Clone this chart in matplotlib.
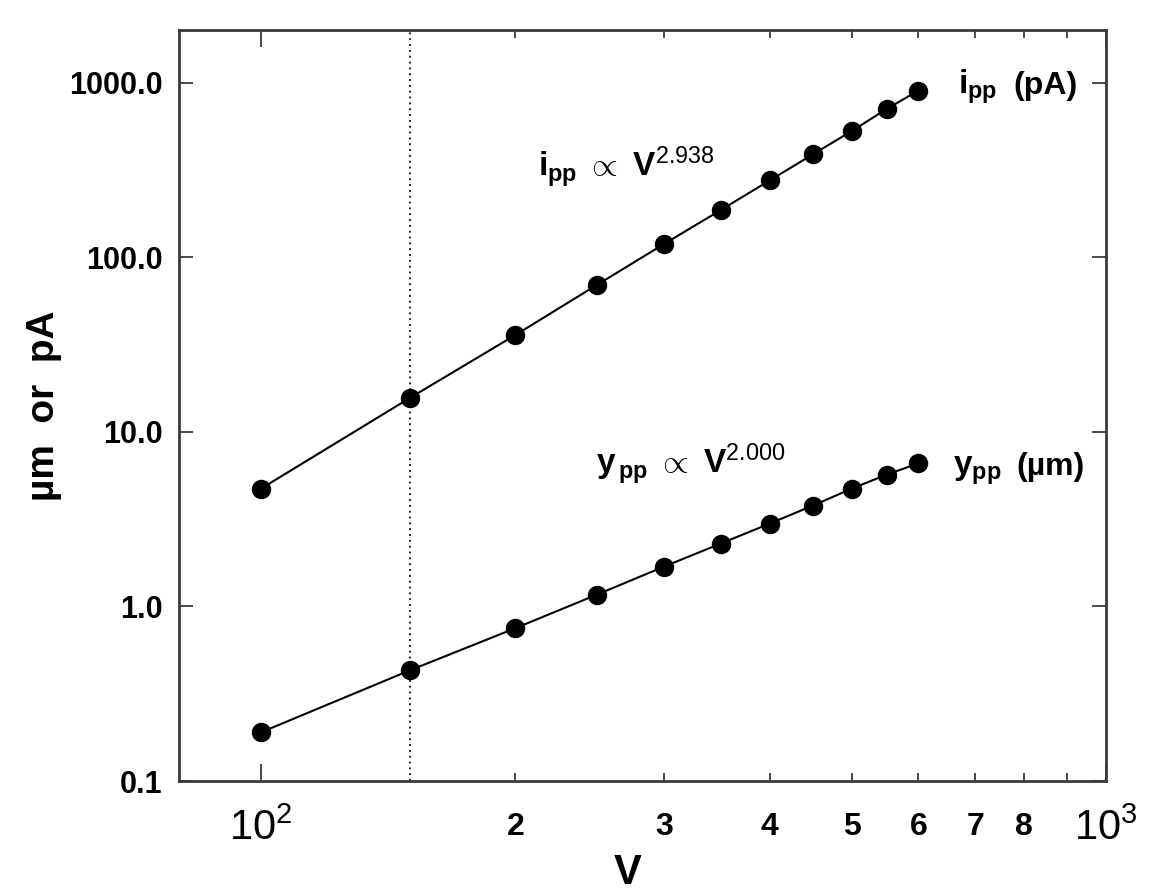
"""
Peak-to-peak current and displacement versus applied voltage (log-log).
"""

import matplotlib
matplotlib.use("Agg")
import matplotlib.pyplot as plt
from matplotlib.ticker import FixedLocator, FixedFormatter, NullFormatter

plt.rcParams["font.family"] = ["Liberation Sans", "DejaVu Sans"]
plt.rcParams["mathtext.fontset"] = "custom"
plt.rcParams["mathtext.rm"] = "Liberation Sans"
plt.rcParams["mathtext.bf"] = "Liberation Sans:bold"
plt.rcParams["mathtext.it"] = "Liberation Sans:italic"

# data
voltage = [100, 150, 200, 250, 300, 350, 400, 450, 500, 550, 600]
i_pp = [4.72, 15.6, 35.8, 69.5, 119, 186, 275, 388, 527, 705, 900]
y_pp = [0.19, 0.43, 0.75, 1.17, 1.69, 2.29, 2.98, 3.78, 4.72, 5.68, 6.6]
marker_voltage = 150

y_ticks = [0.1, 1.0, 10.0, 100.0, 1000.0]
y_tick_labels = ["0.1", "1.0", "10.0", "100.0", "1000.0"]
x_major = [100, 1000]
x_major_labels = [r"$\mathregular{10^{2}}$", r"$\mathregular{10^{3}}$"]
x_minor = [200, 300, 400, 500, 600, 700, 800, 900]
x_minor_labels = ["2", "3", "4", "5", "6", "7", "8", ""]

fig = plt.figure(figsize=(11.57, 8.92), dpi=100)
ax = fig.add_axes([0.1547, 0.1244, 0.8012, 0.8420])
ax.set_xscale("log")
ax.set_yscale("log")
ax.set_xlim(80, 1000)
ax.set_ylim(0.1, 2000)

ax.axvline(marker_voltage, color="#222222", linestyle=(0, (1, 2.0)), lw=1.4, zorder=1)

for series in (i_pp, y_pp):
    ax.plot(voltage, series, color="black", lw=1.5, marker="o", ms=13,
            markerfacecolor="black", markeredgecolor="black", zorder=3)

# axes and ticks
for spine in ax.spines.values():
    spine.set_linewidth(2.0)
    spine.set_color("#3a3a3a")

ax.xaxis.set_major_locator(FixedLocator(x_major))
ax.xaxis.set_major_formatter(FixedFormatter(x_major_labels))
ax.xaxis.set_minor_locator(FixedLocator(x_minor))
ax.xaxis.set_minor_formatter(FixedFormatter(x_minor_labels))
ax.yaxis.set_major_locator(FixedLocator(y_ticks))
ax.yaxis.set_major_formatter(FixedFormatter(y_tick_labels))
ax.yaxis.set_minor_locator(FixedLocator([]))
ax.yaxis.set_minor_formatter(NullFormatter())

ax.tick_params(axis="both", which="both", direction="in", top=True, right=True,
               color="#3a3a3a", width=1.3)
ax.tick_params(axis="x", which="major", length=12, pad=20, labelsize=30)
ax.tick_params(axis="x", which="minor", length=6, pad=22, labelsize=23)
ax.tick_params(axis="y", which="major", length=10, pad=12, labelsize=22)
for lab in ax.xaxis.get_minorticklabels() + ax.yaxis.get_majorticklabels():
    lab.set_fontweight("bold")

ax.set_xlabel("V", fontsize=30, fontweight="bold", va="center")
ax.xaxis.set_label_coords(0.484, -0.1225)
ax.set_ylabel("\u00b5m  or  pA", fontsize=28, fontweight="bold", va="center")
ax.yaxis.set_label_coords(-0.1456, 0.5)

# annotations
ax.text(213, 290, r"$\mathbf{i}_{\mathbf{pp}}\ \propto\ \mathbf{V}^{\mathrm{2.938}}$",
        fontsize=24, ha="left", va="baseline")
ax.text(668, 865, r"$\mathbf{i}_{\mathbf{pp}}$", fontsize=24, ha="left", va="baseline")
ax.text(776, 865, "(pA)", fontsize=23, fontweight="bold", ha="left", va="baseline")
ax.text(249, 5.75, r"$\mathbf{y}_{\,\mathbf{pp}}\ \propto\ \mathbf{V}^{\mathrm{2.000}}$",
        fontsize=24, ha="left", va="baseline")
ax.text(659, 5.68, r"$\mathbf{y}_{\mathbf{pp}}$", fontsize=24, ha="left", va="baseline")
ax.text(784, 5.68, "(\u00b5m)", fontsize=23, fontweight="bold", ha="left", va="baseline")

fig.savefig("out.png", dpi=100)
